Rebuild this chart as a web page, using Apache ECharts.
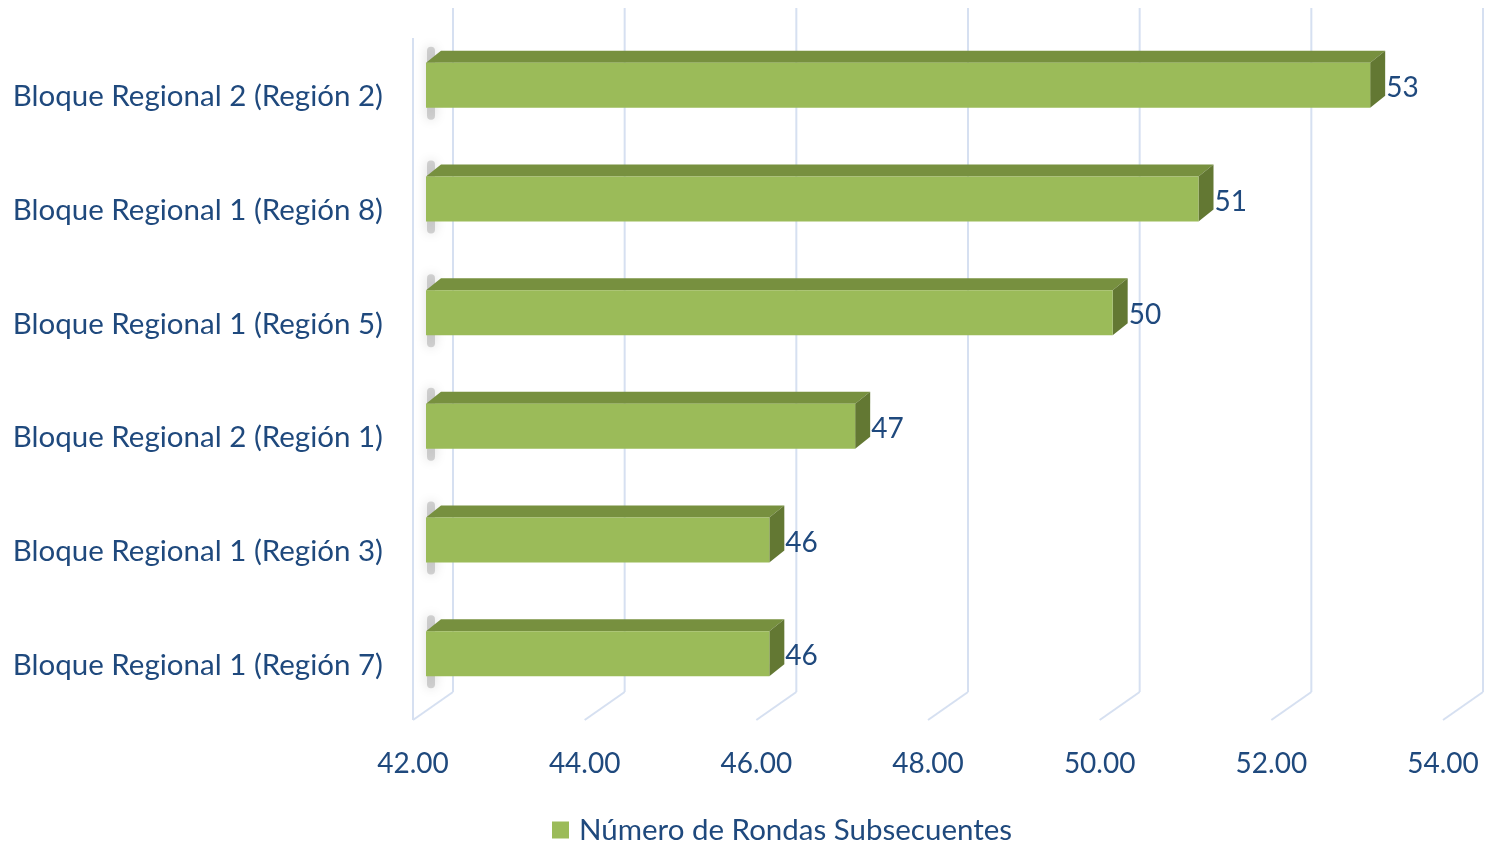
<!DOCTYPE html>
<html>
<head>
<meta charset="utf-8">
<script src="https://cdn.jsdelivr.net/npm/echarts@6/dist/echarts.min.js"></script>
<style>
  html, body { margin: 0; padding: 0; background: #ffffff; }
  #view { width: 1487px; height: 844px; }
</style>
</head>
<body>
<div id="view"></div>
<script>
// categories top to bottom
let categories = [
  "Bloque Regional 2 (Región 2)",
  "Bloque Regional 1 (Región 8)",
  "Bloque Regional 1 (Región 5)",
  "Bloque Regional 2 (Región 1)",
  "Bloque Regional 1 (Región 3)",
  "Bloque Regional 1 (Región 7)"
];
let values = [53, 51, 50, 47, 46, 46];
let ticks = [42, 44, 46, 48, 50, 52, 54];
let seriesName = "Número de Rondas Subsecuentes";

let font = "Lato";
let textColor = "#1f497d";
let gridColor = "#d6e0f1";

// 3d offsets
let depthX = 15, depthY = 12;
let wallX = 40, wallY = 30;

let myChart = echarts.init(document.getElementById("view"));

function renderGrid(params, api) {
  let cs = params.coordSys;
  let p = api.coord([api.value(0), 0]);
  let x = p[0];
  let bottom = cs.y + cs.height - 2;
  let children = [
    { type: "line", shape: { x1: x + wallX, y1: cs.y - 32, x2: x + wallX, y2: bottom - wallY + 2 }, style: { stroke: gridColor, lineWidth: 2 } },
    { type: "line", shape: { x1: x + wallX, y1: bottom - wallY + 2, x2: x, y2: bottom }, style: { stroke: gridColor, lineWidth: 2 } }
  ];
  if (params.dataIndex === 0) {
    children.push({ type: "line", shape: { x1: x, y1: cs.y - 2, x2: x, y2: bottom }, style: { stroke: gridColor, lineWidth: 2 } });
  }
  return { type: "group", children: children };
}

function renderBar(params, api) {
  let start = api.coord([ticks[0], api.value(1)]);
  let end = api.coord([api.value(0), api.value(1)]);
  let x0 = start[0] + 13;
  let x1 = end[0] + 13;
  let yc = end[1];
  let top = yc - 34, bot = yc + 11;
  return {
    type: "group",
    children: [
      // soft shadow on the side wall
      { type: "rect", shape: { x: x0 + 1, y: top - 16, width: 8, height: bot - top + 28, r: 4 },
        style: { fill: "rgba(120,120,120,0.3)", shadowBlur: 12, shadowColor: "rgba(0,0,0,0.5)" } },
      // top face
      { type: "polygon", shape: { points: [[x0, top], [x0 + depthX, top - depthY], [x1 + depthX, top - depthY], [x1, top]] },
        style: { fill: "#77903f" } },
      // side face
      { type: "polygon", shape: { points: [[x1, top], [x1 + depthX, top - depthY], [x1 + depthX, bot - depthY], [x1, bot]] },
        style: { fill: "#637833" } },
      // front face
      { type: "rect", shape: { x: x0, y: top, width: x1 - x0, height: bot - top },
        style: { fill: "#9bbb59" } },
      // label
      { type: "text", x: x1 + depthX + 1, y: yc - 9,
        style: { text: String(api.value(0)), fill: textColor, font: "28px " + font, align: "left", verticalAlign: "middle" } }
    ]
  };
}

let option = {
  backgroundColor: "#ffffff",
  animation: false,
  legend: {
    data: [{ name: seriesName, icon: "rect" }],
    bottom: -6,
    left: 547,
    itemWidth: 17,
    itemHeight: 17,
    itemGap: 10,
    textStyle: { color: textColor, fontSize: 29.5, fontFamily: font, padding: [0, 0, 0, 5] }
  },
  grid: { left: 413, right: 44, top: 40, bottom: 122 },
  xAxis: {
    type: "value",
    min: 42,
    max: 54,
    interval: 2,
    axisLine: { show: false },
    axisTick: { show: false },
    splitLine: { show: false },
    axisLabel: {
      color: textColor,
      fontSize: 28,
      fontFamily: font,
      margin: 28,
      formatter: (v) => v.toFixed(2)
    }
  },
  yAxis: {
    type: "category",
    inverse: true,
    data: categories,
    axisLine: { show: false },
    axisTick: { show: false },
    axisLabel: { color: textColor, fontSize: 29.5, fontFamily: font, margin: 30 }
  },
  series: [
    {
      name: "grid3d",
      type: "custom",
      silent: true,
      clip: false,
      renderItem: renderGrid,
      data: ticks.map((t) => [t, 0]),
      encode: { x: 0 },
      z: 1
    },
    {
      name: seriesName,
      type: "custom",
      clip: false,
      itemStyle: { color: "#9bbb59" },
      renderItem: renderBar,
      data: values.map((v, i) => [v, i]),
      encode: { x: 0, y: 1 },
      z: 2
    }
  ]
};
myChart.setOption(option);
</script>
</body>
</html>
